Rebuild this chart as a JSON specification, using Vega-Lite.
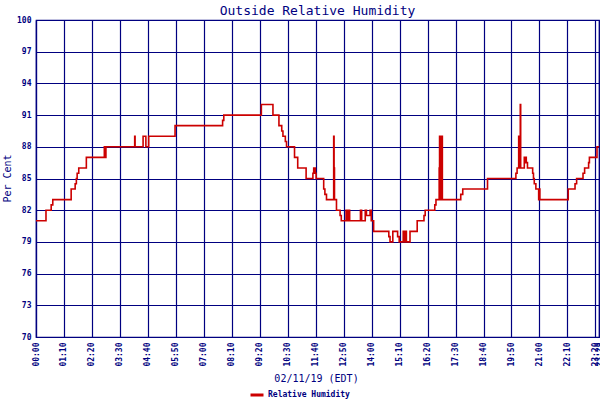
{
  "$schema": "https://vega.github.io/schema/vega-lite/v6.json",
  "autosize": {"type": "none"},
  "padding": {"left": 36, "top": 20, "right": 1, "bottom": 63},
  "width": 563,
  "height": 317,
  "background": "white",
  "title": {"text": "Outside Relative Humidity", "font": "DejaVu Sans Mono", "fontSize": 13, "fontWeight": "normal", "color": "#000080", "anchor": "middle", "offset": -2},
  "data": {"values": [
    {"minute": 0, "rh": 81}, {"minute": 25, "rh": 82}, {"minute": 38, "rh": 82.5}, {"minute": 42, "rh": 83},
    {"minute": 88, "rh": 84}, {"minute": 98, "rh": 84.5}, {"minute": 101, "rh": 85}, {"minute": 103, "rh": 85.5},
    {"minute": 107, "rh": 86}, {"minute": 126, "rh": 87}, {"minute": 171, "rh": 88}, {"minute": 172, "rh": 87.5},
    {"minute": 173, "rh": 88}, {"minute": 174, "rh": 87}, {"minute": 175, "rh": 88}, {"minute": 247, "rh": 89},
    {"minute": 248, "rh": 88}, {"minute": 268, "rh": 89}, {"minute": 275, "rh": 88}, {"minute": 282, "rh": 89},
    {"minute": 348, "rh": 90}, {"minute": 467, "rh": 90.5}, {"minute": 470, "rh": 91}, {"minute": 564, "rh": 92},
    {"minute": 593, "rh": 91}, {"minute": 608, "rh": 90}, {"minute": 615, "rh": 89.5}, {"minute": 618, "rh": 89},
    {"minute": 624, "rh": 88.5}, {"minute": 627, "rh": 88}, {"minute": 647, "rh": 87}, {"minute": 655, "rh": 86},
    {"minute": 676, "rh": 85}, {"minute": 693, "rh": 85.5}, {"minute": 695, "rh": 86}, {"minute": 699, "rh": 85.5},
    {"minute": 701, "rh": 85}, {"minute": 720, "rh": 84}, {"minute": 723, "rh": 83.5}, {"minute": 727, "rh": 83},
    {"minute": 745, "rh": 89}, {"minute": 746, "rh": 86}, {"minute": 747, "rh": 83}, {"minute": 752, "rh": 82},
    {"minute": 761, "rh": 81.5}, {"minute": 764, "rh": 81}, {"minute": 776, "rh": 82}, {"minute": 778, "rh": 81},
    {"minute": 779, "rh": 82}, {"minute": 780, "rh": 81}, {"minute": 782, "rh": 82}, {"minute": 785, "rh": 81},
    {"minute": 812, "rh": 82}, {"minute": 815, "rh": 81}, {"minute": 824, "rh": 82}, {"minute": 827, "rh": 81.5},
    {"minute": 836, "rh": 82}, {"minute": 839, "rh": 81}, {"minute": 845, "rh": 80}, {"minute": 883, "rh": 79.5},
    {"minute": 886, "rh": 79}, {"minute": 893, "rh": 80}, {"minute": 905, "rh": 79.5}, {"minute": 909, "rh": 79},
    {"minute": 919, "rh": 80}, {"minute": 920, "rh": 79}, {"minute": 922, "rh": 80}, {"minute": 923, "rh": 79},
    {"minute": 925, "rh": 80}, {"minute": 927, "rh": 79}, {"minute": 936, "rh": 80}, {"minute": 954, "rh": 81},
    {"minute": 971, "rh": 81.5}, {"minute": 974, "rh": 82}, {"minute": 998, "rh": 82.5}, {"minute": 1001, "rh": 83},
    {"minute": 1009, "rh": 86}, {"minute": 1010, "rh": 89}, {"minute": 1011, "rh": 83}, {"minute": 1012, "rh": 89},
    {"minute": 1013, "rh": 83}, {"minute": 1014, "rh": 89}, {"minute": 1015, "rh": 83}, {"minute": 1016, "rh": 89},
    {"minute": 1017, "rh": 83}, {"minute": 1063, "rh": 83.5}, {"minute": 1068, "rh": 84}, {"minute": 1130, "rh": 85},
    {"minute": 1201, "rh": 85.5}, {"minute": 1204, "rh": 86}, {"minute": 1208, "rh": 89}, {"minute": 1209, "rh": 86},
    {"minute": 1210, "rh": 89}, {"minute": 1211, "rh": 86}, {"minute": 1212, "rh": 92}, {"minute": 1213, "rh": 86},
    {"minute": 1222, "rh": 87}, {"minute": 1224, "rh": 86.5}, {"minute": 1225, "rh": 87}, {"minute": 1227, "rh": 86.5},
    {"minute": 1230, "rh": 86}, {"minute": 1243, "rh": 85.5}, {"minute": 1245, "rh": 85}, {"minute": 1247, "rh": 84.5},
    {"minute": 1251, "rh": 84}, {"minute": 1258, "rh": 83}, {"minute": 1259, "rh": 84}, {"minute": 1261, "rh": 83},
    {"minute": 1332, "rh": 84}, {"minute": 1349, "rh": 84.5}, {"minute": 1353, "rh": 85}, {"minute": 1369, "rh": 85.5},
    {"minute": 1373, "rh": 86}, {"minute": 1383, "rh": 86.5}, {"minute": 1385, "rh": 87}, {"minute": 1404, "rh": 88},
    {"minute": 1409, "rh": 88}
  ]},
  "mark": {"type": "line", "interpolate": "step-after", "strokeWidth": 1.6, "clip": true},
  "encoding": {
    "x": {
      "field": "minute", "type": "quantitative",
      "scale": {"domain": [0, 1409], "nice": false, "zero": false},
      "axis": {
        "values": [0, 70, 140, 210, 280, 350, 420, 490, 560, 630, 700, 770, 840, 910, 980, 1050, 1120, 1190, 1260, 1330, 1400, 1409],
        "labelExpr": "format(floor(datum.value/60),'02d') + ':' + format(datum.value%60,'02d')",
        "labelAngle": -90, "labelPadding": 5, "labelOverlap": false, "labelFlush": false, "labelBound": false,
        "labelFontSize": 8, "labelFontWeight": "bold",
        "title": "02/11/19 (EDT)", "titleFontSize": 10, "titleFontWeight": "normal",
        "titleX": 280, "titleY": 41, "titleAlign": "center", "titleBaseline": "middle"
      }
    },
    "y": {
      "field": "rh", "type": "quantitative",
      "scale": {"domain": [70, 100], "nice": false, "zero": false},
      "axis": {
        "values": [70, 73, 76, 79, 82, 85, 88, 91, 94, 97, 100],
        "labelPadding": 5, "labelFontSize": 8, "labelFontWeight": "bold",
        "title": "Per Cent", "titleFontSize": 10, "titleFontWeight": "normal",
        "titleX": -29, "titleY": 158, "titleAngle": -90, "titleAlign": "center", "titleBaseline": "middle"
      }
    },
    "color": {
      "datum": "Relative Humidity", "type": "nominal",
      "scale": {"range": ["#cc0000"]},
      "legend": {
        "orient": "none", "legendX": 213, "legendY": 367, "title": null,
        "symbolType": "stroke", "symbolSize": 169, "symbolStrokeWidth": 3,
        "labelFont": "DejaVu Sans Mono", "labelFontSize": 8, "labelFontWeight": "bold",
        "labelColor": "#000080", "labelOffset": 3
      }
    }
  },
  "config": {
    "view": {"stroke": "#000080", "strokeWidth": 1.2},
    "axis": {
      "domainColor": "#000080", "domainWidth": 1.2,
      "gridColor": "#000080", "gridOpacity": 1, "gridWidth": 1.2,
      "ticks": false,
      "labelColor": "#000080", "titleColor": "#000080",
      "labelFont": "DejaVu Sans Mono", "titleFont": "DejaVu Sans Mono"
    }
  }
}
